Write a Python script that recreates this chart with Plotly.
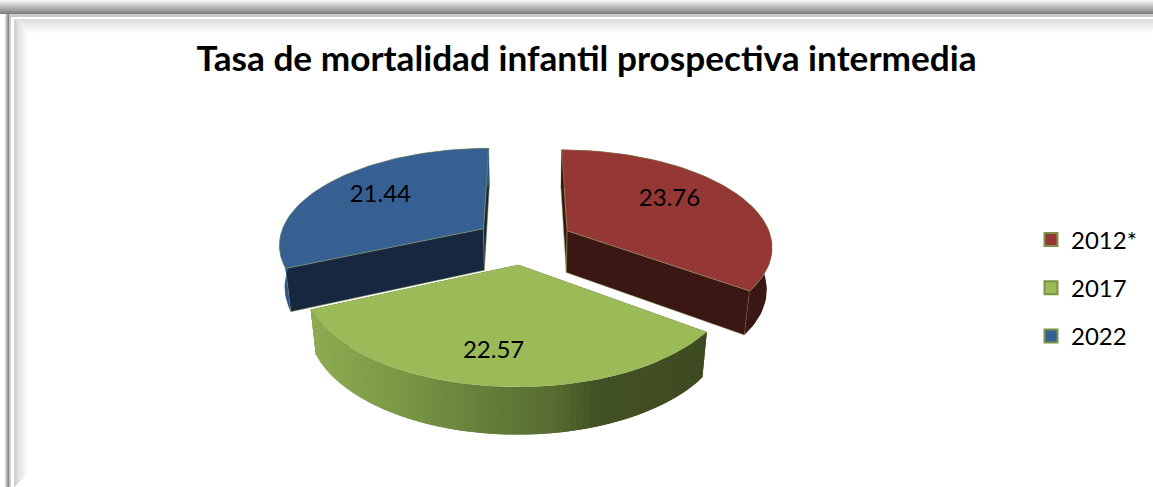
import math
import plotly.graph_objects as go

TITLE = "Tasa de mortalidad infantil prospectiva intermedia"
CATEGORIES = ["2012*", "2017", "2022"]
VALUES = [23.76, 22.57, 21.44]
LABELS = ["23.76", "22.57", "21.44"]

TOP_COLORS = ["#953735", "#9bbb59", "#376092"]
CUT_COLORS = ["#3b1714", "#3e4b22", "#16273f"]
WALL_COLORS = ["#3b1714", None, "#2f5684"]
EDGE = "#8c9c58"
FONT = "Lato"
W, H = 1153, 487

# projection settings (pixel space of the page)
CX, CY, FX, GY, HZ, KY, MZ, EXPLODE = 524, 241, 205, 96, 43, 0.15, 0.022, 0.24
LABEL_R = [0.666, 0.731, 0.69]
LABEL_DA = [-7.8, 1.8, 3.2]
LABEL_DY = 3


def project(X, Y, z=0.0):
    s = 1 / (1 + KY * Y + MZ * z)
    return CX + FX * X * s, CY + (-GY * Y + HZ * z) * s


def polar(theta, r, bis):
    t, b = math.radians(theta), math.radians(bis)
    return EXPLODE * math.sin(b) + r * math.sin(t), EXPLODE * math.cos(b) + r * math.cos(t)


def poly(pts, color, line=None, lw=0.5):
    xs = [p[0] for p in pts] + [pts[0][0]]
    ys = [p[1] for p in pts] + [pts[0][1]]
    return go.Scatter(x=xs, y=ys, mode="lines", fill="toself", fillcolor=color,
                      line=dict(color=line or color, width=lw if line else 0),
                      hoverinfo="skip", showlegend=False)


def mix(a, b, t):
    ca = [int(a[i:i + 2], 16) for i in (1, 3, 5)]
    cb = [int(b[i:i + 2], 16) for i in (1, 3, 5)]
    return "#%02x%02x%02x" % tuple(round(u + (v - u) * t) for u, v in zip(ca, cb))


def green_wall(x):
    stops = [(314, "#8dab52"), (400, "#7b9845"), (480, "#67813c"), (560, "#556b30"), (600, "#435224"), (705, "#3e4b21")]
    for (x0, c0), (x1, c1) in zip(stops, stops[1:]):
        if x <= x1:
            return mix(c0, c1, max(0, (x - x0) / (x1 - x0)))
    return stops[-1][1]


total = sum(VALUES)
bounds = [0.0]
for v in VALUES:
    bounds.append(bounds[-1] + v / total * 360)

traces = []
labels_xy = []
order = [2, 0, 1]  # far slices first, the near slice last
for i in order:
    a0, a1 = bounds[i], bounds[i + 1]
    bis = (a0 + a1) / 2
    n = 72
    angles = [a0 + (a1 - a0) * k / n for k in range(n + 1)]
    rim = [polar(a, 1, bis) for a in angles]
    apex = polar(a0, 0, bis)
    edge = None if i == 1 else EDGE

    # the two flat cuts
    for end in (rim[0], rim[-1]):
        traces.append(poly([project(*apex), project(*end), project(*end, 1), project(*apex, 1)],
                           CUT_COLORS[i], edge, 0.5))
    # the curved outer wall
    if i == 1:
        # painted from the right-hand end, each step overlapping the next to hide seams
        for k in range(n):
            p0, p1 = rim[k], rim[min(k + 2, n)]
            q = [project(*p0), project(*p1), project(*p1, 1), project(*p0, 1)]
            traces.append(poly(q, green_wall(project(*rim[k])[0])))
    else:
        pts = [project(*p) for p in rim] + [project(*p, 1) for p in reversed(rim)]
        traces.append(poly(pts, WALL_COLORS[i]))
    # the top
    traces.append(poly([project(*apex)] + [project(*p) for p in rim], TOP_COLORS[i], edge, 0.5))

    lx, ly = polar(bis + LABEL_DA[i], LABEL_R[i], bis)
    labels_xy.append((i, project(lx, ly)))

labels_xy.sort()
traces.append(go.Scatter(x=[p[1][0] for p in labels_xy], y=[p[1][1] + LABEL_DY for p in labels_xy],
                         mode="text", text=LABELS, textposition="middle center",
                         textfont=dict(family=FONT, size=24, color="#000000"),
                         hoverinfo="skip", showlegend=False))

for name, col in zip(CATEGORIES, TOP_COLORS):
    traces.append(go.Scatter(x=[None], y=[None], mode="markers", name=name, legendgroup=name,
                             marker=dict(symbol="square", size=13, color=col,
                                         line=dict(color="#7d9248", width=2))))

# picture frame, drawn with mitred strips
shapes = []


def strip(path, color):
    shapes.append(dict(type="path", path=path, fillcolor=color, line=dict(width=0), layer="below"))


for i in range(14):
    c = mix("#f4f4f4", "#808080", i / 13)
    strip(f"M0,{i}H{W}V{i+1}H0Z", c)
strip(f"M9,14H{W}V17H11V{H}H9Z", "#c9c9c9")
for i in range(4):
    c = mix("#dcdcdc", "#858585", i / 3)
    strip(f"M{5+i},14H{6+i}V{H}H{5+i}Z", c)
for i in range(15):
    c = mix("#cfcfcf" if i < 3 else "#d8d8d8", "#ffffff", i / 14)
    strip(f"M{14+i},{19+i}H{14+i+1}V{H-i}H{14+i}Z", c)
    c2 = mix("#dedede", "#ffffff", i / 14)
    strip(f"M{14+i},{19+i}H{W+10-i}V{20+i}H{15+i}Z", c2)

fig = go.Figure(traces)
fig.update_layout(
    width=W, height=H, autosize=False,
    margin=dict(l=0, r=0, t=0, b=0),
    paper_bgcolor="#ffffff", plot_bgcolor="rgba(0,0,0,0)",
    xaxis=dict(range=[0, W], visible=False, fixedrange=True),
    yaxis=dict(range=[H, 0], visible=False, fixedrange=True),
    title=dict(text=f"<b>{TITLE}</b>", x=586.5 / W, xanchor="center", y=1 - 59 / H, yanchor="middle",
               font=dict(family=FONT, size=35.2, color="#000000")),
    legend=dict(x=1031 / W, xanchor="left", y=1 - 288 / H, yanchor="middle",
                bgcolor="rgba(0,0,0,0)", borderwidth=0, tracegroupgap=14, itemwidth=30,
                font=dict(family=FONT, size=24, color="#000000"), itemsizing="trace"),
    shapes=shapes,
)
fig.write_html("out.html", config=dict(displayModeBar=False),
               post_script="document.body.style.margin='0';document.body.style.overflow='hidden';")
